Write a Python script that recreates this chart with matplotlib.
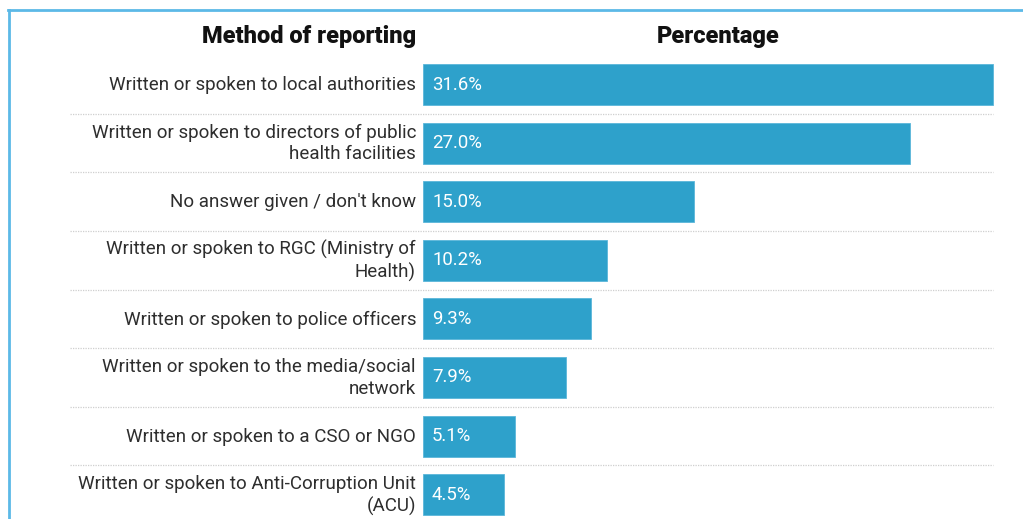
import matplotlib.pyplot as plt
from matplotlib.lines import Line2D

plt.rcParams['font.family'] = ['Roboto', 'DejaVu Sans']

methods = [
    "Written or spoken to local authorities",
    "Written or spoken to directors of public\nhealth facilities",
    "No answer given / don't know",
    "Written or spoken to RGC (Ministry of\nHealth)",
    "Written or spoken to police officers",
    "Written or spoken to the media/social\nnetwork",
    "Written or spoken to a CSO or NGO",
    "Written or spoken to Anti-Corruption Unit\n(ACU)",
]
percent = [31.6, 27.0, 15.0, 10.2, 9.3, 7.9, 5.1, 4.5]

bar_color = "#2ea1cb"
text_color = "#2e2e2e"

W, H = 1023, 519
fig = plt.figure(figsize=(W / 100, H / 100), dpi=100)
fig.patch.set_facecolor("white")

# bar area starts at x=423px, 18.04 px per percent point
px_per = 18.04
x0 = 423
ax = fig.add_axes([x0 / W, 0, (W - x0) / W, 1])
ax.set_xlim(0, (W - x0) / px_per)
pitch = 58.6
ax.set_ylim((H - 84.5) / pitch, -84.5 / pitch)
ax.axis("off")

rows = range(len(methods))
ax.barh(rows, percent, height=0.70, color=bar_color, edgecolor="#5bb6da", linewidth=0.6)

lab_x = -7 / px_per
for i, (m, p) in enumerate(zip(methods, percent)):
    ax.text(lab_x, i + 0.01, m, ha="right", va="center", fontsize=13.5, color=text_color,
            linespacing=1.24, clip_on=False)
    ax.text(9 / px_per, i, f"{p:.1f}%", ha="left", va="center", fontsize=13.4,
            color="white")

# dotted separators between rows
sep_left = (70 - x0) / px_per
for i in range(len(methods) - 1):
    ax.plot([sep_left, percent[0]], [i + 0.5, i + 0.5], linestyle=(0, (1, 1)),
            color="#cfcfcf", linewidth=0.9, clip_on=False)

# column headers
head_y = (37 - 84.5) / pitch
ax.text(lab_x, head_y, "Method of reporting", ha="right", va="center",
        fontsize=17, fontweight="black", color="#111111", clip_on=False)
ax.text((718 - x0) / px_per, head_y, "Percentage", ha="center", va="center",
        fontsize=17, fontweight="black", color="#111111", clip_on=False)

# light blue frame
frame = "#5cb9e7"
fig.add_artist(Line2D([9 / W, 9 / W], [0, 1 - 10 / H], transform=fig.transFigure,
                      color=frame, linewidth=2))
fig.add_artist(Line2D([8 / W, 1], [1 - 10 / H, 1 - 10 / H], transform=fig.transFigure,
                      color=frame, linewidth=2))

fig.savefig("out.png", dpi=100, facecolor="white")
